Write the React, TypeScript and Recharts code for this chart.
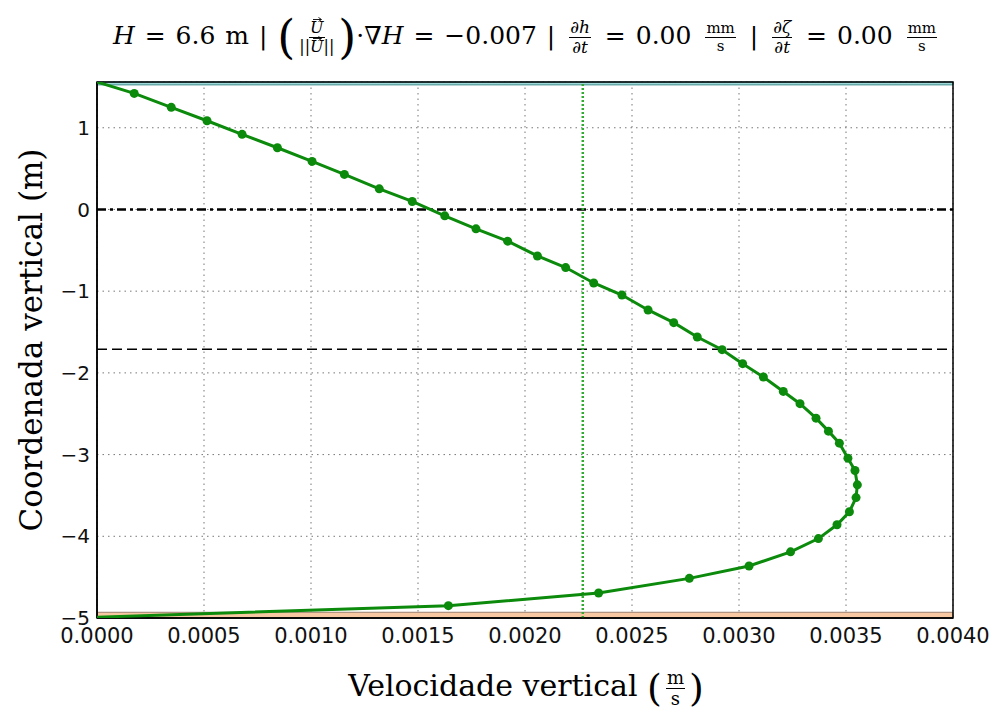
import React from 'react';
import {
  ScatterChart, Scatter, XAxis, YAxis, CartesianGrid, ReferenceLine, ReferenceArea,
} from 'recharts';

// perfil de velocidade vertical (m/s) e cota (m), de cima para baixo
const velocidade = [
  0, 0.000174, 0.000347, 0.000514, 0.000678, 0.000843, 0.001005, 0.001156, 0.001319, 0.001473,
  0.001625, 0.001771, 0.001919, 0.002058, 0.00219, 0.002321, 0.002453, 0.002575, 0.002695,
  0.002805, 0.002921, 0.003017, 0.003114, 0.003207, 0.003285, 0.00336, 0.003418, 0.003469,
  0.003509, 0.003542, 0.003553, 0.003547, 0.003516, 0.003458, 0.003371, 0.003241, 0.003047,
  0.002768, 0.002344, 0.001642, 0,
];
const cota = [
  1.56, 1.42, 1.25, 1.086, 0.919, 0.755, 0.588, 0.429, 0.252, 0.098,
  -0.078, -0.237, -0.388, -0.569, -0.711, -0.9, -1.047, -1.23, -1.385,
  -1.561, -1.716, -1.887, -2.051, -2.227, -2.377, -2.554, -2.713, -2.86,
  -3.044, -3.195, -3.37, -3.526, -3.7, -3.859, -4.028, -4.19, -4.363,
  -4.515, -4.694, -4.849, -4.99,
];

const xTicks = [0, 0.0005, 0.001, 0.0015, 0.002, 0.0025, 0.003, 0.0035, 0.004];
const yTicks = [-5, -4, -3, -2, -1, 0, 1];

const nivelMedio = 0;
const profundidadeRef = -1.71;
const velocidadeMedia = 0.00227;

const perfil = velocidade.map((w, i) => ({
  w, z: cota[i], marca: i > 0 && i < velocidade.length - 1,
}));

const verde = '#0b8a0b';
const serif = '"DejaVu Serif", "Liberation Serif", serif';

const Frac = ({ n, d, size = 15 }: { n: React.ReactNode; d: React.ReactNode; size?: number }) => (
  <span style={{
    display: 'inline-flex', flexDirection: 'column', alignItems: 'center',
    verticalAlign: 'middle', fontSize: size, lineHeight: 1.1, margin: '0 4px',
  }}>
    <span style={{ borderBottom: '1px solid #000', padding: '0 1px' }}>{n}</span>
    <span>{d}</span>
  </span>
);

// U com seta desenhada por cima
const Vec = ({ s }: { s: string }) => (
  <span style={{ position: 'relative', display: 'inline-block' }}>
    <svg width={9} height={5} style={{ position: 'absolute', left: 3, top: -2 }}>
      <line x1={0} y1={2.5} x2={8} y2={2.5} stroke="#000" strokeWidth={0.9} />
      <path d="M5.5,0.5 L8.5,2.5 L5.5,4.5" fill="none" stroke="#000" strokeWidth={0.9} />
    </svg>
    <i>{s}</i>
  </span>
);

const Marca = (props: any) => {
  if (!props.payload || !props.payload.marca) return <g />;
  return <circle cx={props.cx} cy={props.cy} r={4.5} fill={verde} />;
};

const fmtY = (v: number) => (v < 0 ? '\u2212' + Math.abs(v) : String(v));

export default function App() {
  return (
    <div style={{ position: 'absolute', left: 0, top: 0, width: 994, height: 711, background: '#fff' }}>
      <div style={{
        position: 'absolute', left: 0, width: 1054, top: 10, textAlign: 'center',
        fontFamily: serif, fontSize: 25, whiteSpace: 'nowrap', wordSpacing: 2,
      }}>
        <i>H</i> = 6.6 m | <span style={{ fontSize: 46, verticalAlign: 'middle', fontWeight: 200 }}>(</span>
        <Frac n={<Vec s="U" />} d={<span>||<Vec s="U" />||</span>} size={16} />
        <span style={{ fontSize: 46, verticalAlign: 'middle', fontWeight: 200 }}>)</span>·∇<i>H</i> = −0.007 |{' '}
        <Frac n={<i>∂h</i>} d={<i>∂t</i>} size={17} /> = 0.00 <Frac n="mm" d="s" size={15} /> |{' '}
        <Frac n={<i>∂ζ</i>} d={<i>∂t</i>} size={17} /> = 0.00 <Frac n="mm" d="s" size={15} />
      </div>

      <ScatterChart width={994} height={711} margin={{ top: 82, right: 41, bottom: 63, left: 37 }}>
        <CartesianGrid stroke="#777" strokeDasharray="1.5 4" />
        <XAxis
          type="number" dataKey="w" domain={[0, 0.004]} ticks={xTicks} allowDataOverflow
          tickFormatter={(v: number) => v.toFixed(4)} tickSize={0} tickMargin={10} height={30}
          axisLine={{ stroke: '#000', strokeWidth: 1.5 }}
          tick={{ fill: '#111', fontSize: 21, fontFamily: '"DejaVu Sans", sans-serif' }}
        />
        <YAxis
          type="number" dataKey="z" domain={[-5, 1.56]} ticks={yTicks} allowDataOverflow
          tickFormatter={fmtY} tickSize={0} tickMargin={7} width={60}
          axisLine={{ stroke: '#000', strokeWidth: 1.5 }}
          tick={{ fill: '#111', fontSize: 20, fontFamily: '"DejaVu Sans", sans-serif' }}
        />
        <ReferenceArea x1={0} x2={0.004} y1={-5} y2={-4.93} fill="#f8c8a2" fillOpacity={1} stroke="#9a8070" strokeWidth={1} />
        <ReferenceArea x1={0} x2={0.004} y1={1.525} y2={1.56} fill="#9fd8d8" fillOpacity={1} stroke="#3c8c8c" strokeWidth={1} />
        <ReferenceLine y={nivelMedio} stroke="#000" strokeWidth={2.5} strokeDasharray="9 4 3 4" />
        <ReferenceLine y={profundidadeRef} stroke="#000" strokeWidth={1.5} strokeDasharray="10 5" />
        <ReferenceLine x={velocidadeMedia} stroke="#33aa33" strokeWidth={2.5} strokeDasharray="2 2" />
        <Scatter
          data={perfil} isAnimationActive={false} line={{ stroke: verde, strokeWidth: 3 }}
          lineType="joint" shape={<Marca />}
        />
        <ReferenceArea x1={0} x2={0.004} y1={-5} y2={1.56} fill="none" stroke="#000" strokeWidth={1.5} />
      </ScatterChart>

      <div style={{
        position: 'absolute', left: 31, top: 340, transform: 'translate(-50%, -50%) rotate(-90deg)',
        fontFamily: serif, fontSize: 31, whiteSpace: 'nowrap',
      }}>
        Coordenada vertical (m)
      </div>
      <div style={{
        position: 'absolute', left: 0, width: 1052, top: 666, textAlign: 'center',
        fontFamily: serif, fontSize: 30, whiteSpace: 'nowrap',
      }}>
        Velocidade vertical <span style={{ fontSize: 38, verticalAlign: 'middle', fontWeight: 200 }}>(</span>
        <Frac n="m" d="s" size={18} />
        <span style={{ fontSize: 38, verticalAlign: 'middle', fontWeight: 200 }}>)</span>
      </div>
    </div>
  );
}
